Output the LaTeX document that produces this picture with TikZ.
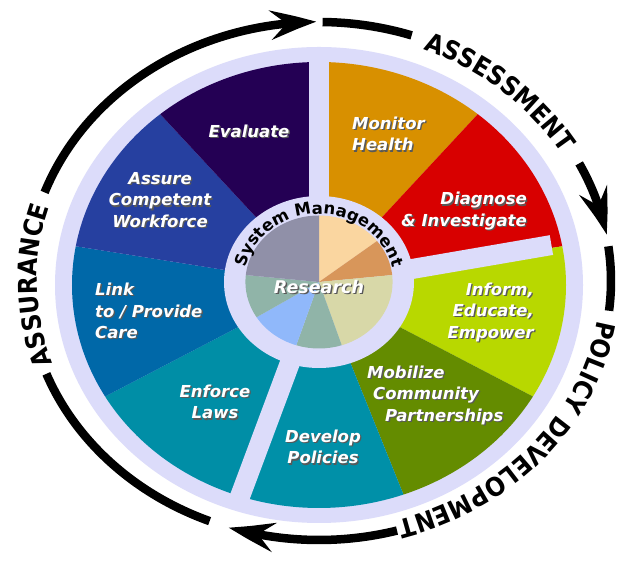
\documentclass[tikz,border=0pt]{standalone}
\usepackage{fontspec}
\usetikzlibrary{arrows.meta,bending,calc,decorations.text}
\newfontfamily\segfont{DejaVu Sans}
\newfontfamily\ringfont{DejaVu Sans}[FakeStretch=0.9]
\definecolor{wheelgap}{RGB}{220,220,250}
\definecolor{evalcol}{RGB}{36,0,84}
\definecolor{assurecol}{RGB}{38,64,160}
\definecolor{linkcol}{RGB}{0,104,168}
\definecolor{enforcecol}{RGB}{0,142,166}
\definecolor{developcol}{RGB}{0,144,168}
\definecolor{mobilizecol}{RGB}{100,140,0}
\definecolor{informcol}{RGB}{184,216,0}
\definecolor{diagnosecol}{RGB}{216,0,0}
\definecolor{monitorcol}{RGB}{216,144,0}
\definecolor{piegrey}{RGB}{144,144,168}
\definecolor{piepeach}{RGB}{250,214,160}
\definecolor{pieorange}{RGB}{216,150,90}
\definecolor{piekhaki}{RGB}{216,216,168}
\definecolor{piesage}{RGB}{144,180,168}
\definecolor{pieblue}{RGB}{144,184,250}
\tikzstyle{seglabel} = [text=white, inner sep=0pt, font=\segfont\bfseries\itshape\fontsize{16.5}{21.5}\selectfont]
\tikzstyle{segshadow} = [seglabel, text=black!65]
\tikzstyle{ringline} = [line width=8.5pt]
\tikzstyle{ringarrow} = [ringline, -{Stealth[length=46pt, width=29pt, inset=16pt, bend]}]
\newcommand{\ringtext}{\ringfont\bfseries\fontsize{26}{26}\selectfont}
\newcommand{\systext}{\segfont\bfseries\fontsize{16.5}{16.5}\selectfont}
\newcommand{\segtext}[4]{
	\node[segshadow, #3, xshift=1.3pt, yshift=-1.3pt] at (#2) {#4};
	\node[seglabel, #3] (#1) at (#2) {#4};
}

\begin{document}
\begin{tikzpicture}[x=1pt, y=1pt]
	\useasboundingbox (0,0) rectangle (624,561);
	\fill[white] (0,0) rectangle (624,561);
	\coordinate (c) at (319,276);
	\coordinate (ci) at (319,279);
	\coordinate (r) at (319,280);

	% wheel
	\fill[wheelgap] (c) ellipse[x radius=264pt, y radius=238pt];
	\foreach \a/\col in {50/monitorcol, 10/diagnosecol, -30/informcol, -70/mobilizecol, -110/developcol, -150/enforcecol, 170/linkcol, 130/assurecol, 90/evalcol}
		\fill[\col] (c) -- ($(c)+(\a:247pt and 223pt)$) arc[start angle=\a, delta angle=40, x radius=247pt, y radius=223pt] -- cycle;
	\foreach \g in {90,10,-110}
		\draw[wheelgap, line width=20pt] (c) -- ($(c)+(\g:236pt and 230pt)$);
	\fill[wheelgap] (ci) ellipse[x radius=95pt, y radius=86pt];
	\foreach \a/\b/\col in {38/90/piepeach, 6/38/pieorange, -72/6/piekhaki, -108/-72/piesage, -148/-108/pieblue, 174/212/piesage, 90/174/piegrey}
		\fill[\col] (ci) -- ($(ci)+(\a:73.6pt and 66.5pt)$) arc[start angle=\a, end angle=\b, x radius=73.6pt, y radius=66.5pt] -- cycle;

	% labels
	\segtext{evaluate}{249,430}{}{Evaluate}
	\segtext{monitor}{352,427}{anchor=west, align=left}{Monitor\\Health}
	\segtext{diagnose}{527,350}{anchor=east, align=right}{Diagnose\\\& Investigate}
	\segtext{inform}{534,249}{anchor=east, align=right}{Inform,\\Educate,\\Empower}
	\segtext{mobilize}{367,166}{anchor=west, align=left}{Mobilize\\\hspace*{6pt}Community\\\hspace*{18pt}Partnerships}
	\segtext{develop}{323,114}{align=center}{Develop\\Policies}
	\segtext{enforce}{215,159}{align=center}{Enforce\\Laws}
	\segtext{link}{95,250}{anchor=west, align=left}{Link\\to / Provide\\Care}
	\segtext{assure}{160,361}{align=center}{Assure\\Competent\\Workforce}
	\segtext{research}{319,274}{font=\segfont\bfseries\itshape\fontsize{17.5}{20}\selectfont}{Research}
	\path[decorate, decoration={text along path, text align=center, text={|\systext|System Management}}]
		($(ci)+(180:75pt and 68pt)$) arc[start angle=180, end angle=0, x radius=75pt, y radius=68pt];

	% outer cycle
	\draw[ringline] ($(r)+(248:292pt and 259pt)$) arc[start angle=248, end angle=201, x radius=292pt, y radius=259pt];
	\draw[ringarrow] ($(r)+(160:292pt and 259pt)$) arc[start angle=160, end angle=90.5, x radius=292pt, y radius=259pt];
	\draw[ringline] ($(r)+(89.3:292pt and 259pt)$) arc[start angle=89.3, end angle=71.5, x radius=292pt, y radius=259pt];
	\draw[ringarrow] ($(r)+(27:292pt and 259pt)$) arc[start angle=27, end angle=10.3, x radius=292pt, y radius=259pt];
	\draw[ringline] ($(r)+(7.7:292pt and 259pt)$) arc[start angle=7.7, end angle=-6.6, x radius=292pt, y radius=259pt];
	\draw[ringarrow] ($(r)+(-74.5:292pt and 259pt)$) arc[start angle=-74.5, end angle=-108, x radius=292pt, y radius=259pt];
	\path[decorate, decoration={text along path, text align=center, text={|\ringtext|ASSESSMENT}}]
		($(r)+(79:282pt and 249pt)$) arc[start angle=79, end angle=19, x radius=282pt, y radius=249pt];
	\path[decorate, decoration={text along path, text align=center, text={|\ringtext|POLICY DEVELOPMENT}}]
		($(r)+(-1:282pt and 249pt)$) arc[start angle=-1, end angle=-81, x radius=282pt, y radius=249pt];
	\path[decorate, decoration={text along path, text align=center, text={|\ringtext|ASSURANCE}}]
		($(r)+(206:282pt and 249pt)$) arc[start angle=206, end angle=156, x radius=282pt, y radius=249pt];
\end{tikzpicture}
\end{document}
